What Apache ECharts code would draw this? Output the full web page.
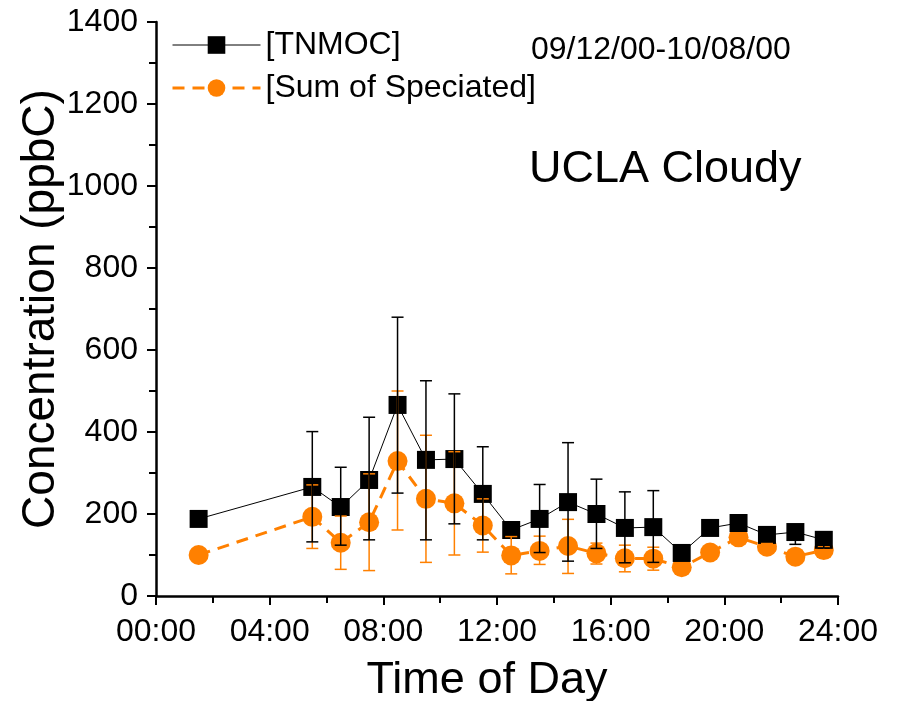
<!DOCTYPE html>
<html>
<head>
<meta charset="utf-8">
<script src="https://cdn.jsdelivr.net/npm/echarts@6/dist/echarts.min.js"></script>
<style>html,body{margin:0;padding:0;background:#fff}#c{width:897px;height:701px}</style>
</head>
<body>
<div id="c"></div>
<script>
// ---- data ----
var hours = [1.5, 5.5, 6.5, 7.5, 8.5, 9.5, 10.5, 11.5, 12.5, 13.5, 14.5, 15.5, 16.5, 17.5, 18.5, 19.5, 20.5, 21.5, 22.5, 23.5];
var tnmoc = [188, 266, 217, 283, 466, 332, 334, 249, 161, 188, 229, 200, 166, 168, 105, 166, 178, 149, 156, 137];
var tnmocHigh = [196, 401, 314, 436, 680, 525, 493, 364, 172, 272, 374, 285, 254, 257, 120, 172, 186, 155, 172, 150];
var tnmocLow = [180, 132, 124, 137, 251, 137, 176, 137, 150, 106, 85, 116, 81, 82, 88, 160, 170, 143, 126, 117];
var speciated = [100, 193, 130, 180, 329, 237, 226, 172, 99, 110, 122, 104, 92, 91, 70, 106, 143, 120, 96, 112];
var speciatedHigh = [108, 271, 195, 298, 500, 392, 352, 237, 145, 146, 187, 129, 124, 119, 78, 114, 150, 128, 104, 120];
var speciatedLow = [92, 116, 65, 62, 161, 82, 100, 107, 54, 77, 55, 78, 59, 63, 62, 98, 136, 112, 88, 104];
var yTicks = [0, 200, 400, 600, 800, 1000, 1200, 1400];
var xTickLabels = ['00:00', '04:00', '08:00', '12:00', '16:00', '20:00', '24:00'];
var seriesNames = ['[TNMOC]', '[Sum of Speciated]'];
var dateText = '09/12/00-10/08/00';
var siteText = 'UCLA Cloudy';

var FONT = 'Liberation Sans, Arial, sans-serif';
var ORANGE = '#FF8000';

function pairs(xs, ys) { return xs.map(function (x, i) { return [x, ys[i]]; }); }
function errData(xs, lo, hi) { return xs.map(function (x, i) { return [x, lo[i], hi[i]]; }); }

function errRender(color) {
  return function (params, api) {
    var x = api.value(0);
    var lo = api.coord([x, api.value(1)]);
    var hi = api.coord([x, api.value(2)]);
    var cw = 6;
    var style = { stroke: color, lineWidth: 1.5 };
    return {
      type: 'group',
      children: [
        { type: 'line', shape: { x1: lo[0], y1: lo[1], x2: hi[0], y2: hi[1] }, style: style },
        { type: 'line', shape: { x1: lo[0] - cw, y1: lo[1], x2: lo[0] + cw, y2: lo[1] }, style: style },
        { type: 'line', shape: { x1: hi[0] - cw, y1: hi[1], x2: hi[0] + cw, y2: hi[1] }, style: style }
      ]
    };
  };
}

var chart = echarts.init(document.getElementById('c'), null, { renderer: 'canvas' });
chart.setOption({
  animation: false,
  backgroundColor: '#fff',
  textStyle: { fontFamily: FONT },
  grid: { left: 156, right: 59, top: 22, bottom: 105, outerBoundsMode: 'none', containLabel: false },
  legend: {
    left: 171, top: 29, orient: 'vertical', padding: 0,
    itemWidth: 88, itemHeight: 22, itemGap: 11,
    textStyle: { fontSize: 32, color: '#000', fontFamily: FONT, padding: [0, 0, 0, 0] },
    data: [
      { name: seriesNames[0], lineStyle: { width: 1 } },
      { name: seriesNames[1], lineStyle: { width: 3 } }
    ]
  },
  xAxis: {
    type: 'value', min: 0, max: 24, interval: 4,
    name: 'Time of Day', nameLocation: 'middle', nameGap: 62,
    nameTextStyle: { fontSize: 45, color: '#000', fontFamily: FONT, padding: [0, 20, 0, 0] },
    axisLine: { lineStyle: { color: '#000', width: 2.5 } },
    axisTick: { length: 9, lineStyle: { color: '#000', width: 2 } },
    minorTick: { show: true, splitNumber: 2, length: 7, lineStyle: { color: '#000', width: 2 } },
    splitLine: { show: false },
    axisLabel: {
      fontSize: 32, color: '#000', margin: 20, fontFamily: FONT, showMinLabel: true, showMaxLabel: true,
      formatter: function (v) { return xTickLabels[Math.round(v / 4)]; }
    }
  },
  yAxis: {
    type: 'value', min: 0, max: 1400, interval: 200,
    name: 'Concentration (ppbC)', nameLocation: 'middle', nameGap: 92, nameMoveOverlap: false,
    nameTextStyle: { fontSize: 46, color: '#000', fontFamily: FONT },
    axisLine: { show: true, lineStyle: { color: '#000', width: 2.5 } },
    axisTick: { show: true, length: 9, lineStyle: { color: '#000', width: 2 } },
    minorTick: { show: true, splitNumber: 2, length: 7, lineStyle: { color: '#000', width: 2 } },
    splitLine: { show: false },
    axisLabel: {
      fontSize: 32, color: '#000', margin: 18, fontFamily: FONT,
      formatter: function (v) { return yTicks.indexOf(v) >= 0 ? String(v) : ''; }
    }
  },
  graphic: [
    { type: 'text', left: 531, top: 34, style: { text: dateText, fontSize: 32, fill: '#000', fontFamily: FONT } },
    { type: 'text', left: 529, top: 147, style: { text: siteText, fontSize: 45, fill: '#000', fontFamily: FONT } }
  ],
  series: [
    {
      name: seriesNames[1], type: 'line', z: 2,
      data: pairs(hours, speciated),
      symbol: 'circle', symbolSize: 20,
      lineStyle: { color: ORANGE, width: 3, type: [12, 8] },
      itemStyle: { color: ORANGE }
    },
    {
      name: seriesNames[0], type: 'line', z: 3,
      data: pairs(hours, tnmoc),
      symbol: 'rect', symbolSize: 18,
      lineStyle: { color: '#000', width: 1 },
      itemStyle: { color: '#000' }
    },
    {
      type: 'custom', z: 4, silent: true,
      data: errData(hours, speciatedLow, speciatedHigh),
      encode: { x: 0, y: [1, 2] },
      renderItem: errRender(ORANGE)
    },
    {
      type: 'custom', z: 5, silent: true,
      data: errData(hours, tnmocLow, tnmocHigh),
      encode: { x: 0, y: [1, 2] },
      renderItem: errRender('#000')
    }
  ]
});
</script>
</body>
</html>
